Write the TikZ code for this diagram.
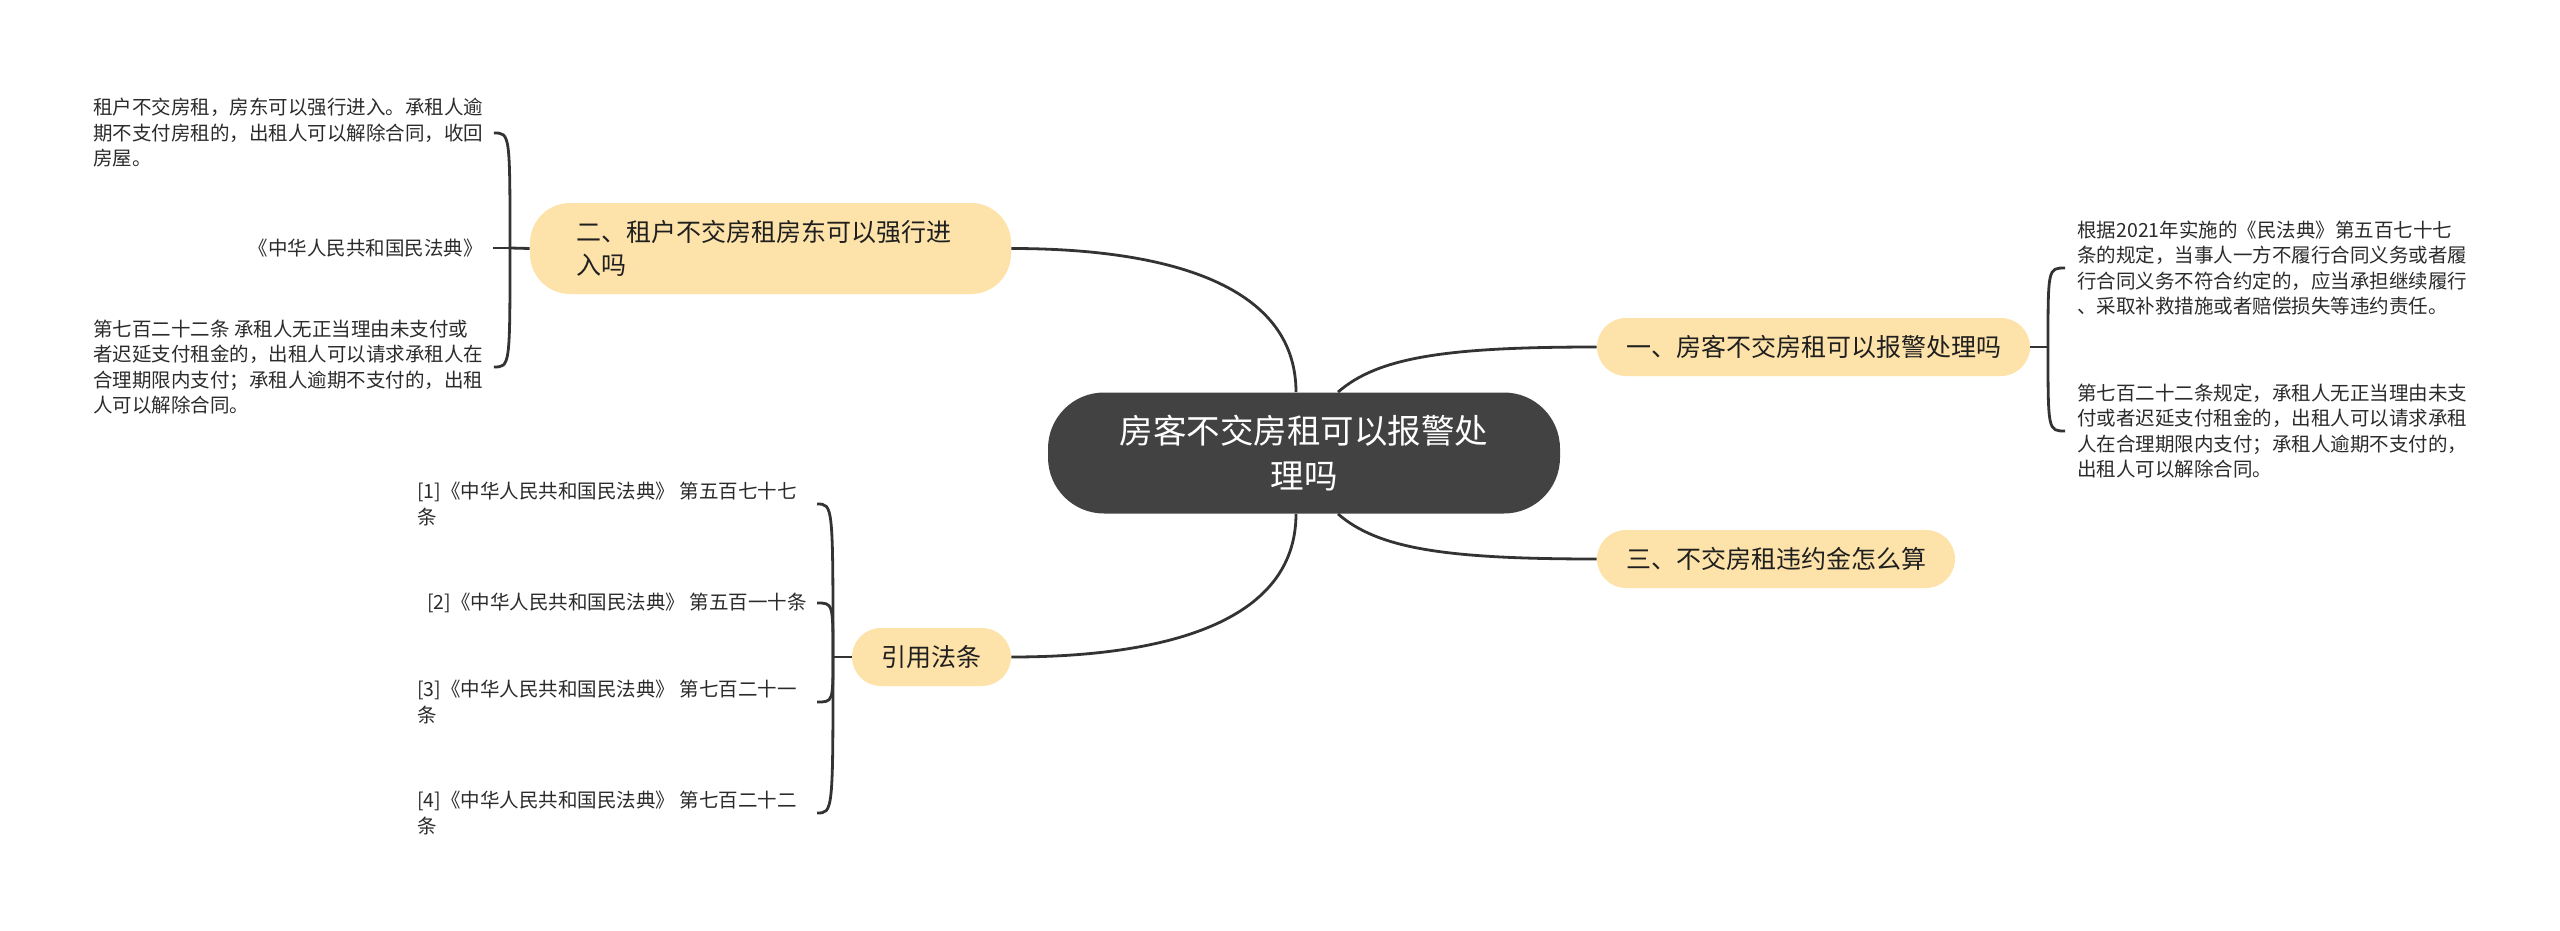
\documentclass[tikz,border=0pt]{standalone}
\usepackage{fontspec}
\setmainfont{Noto Sans CJK SC}
\usetikzlibrary{positioning}
\definecolor{rootgray}{HTML}{424242}
\definecolor{peach}{HTML}{FDE3AA}
\definecolor{linkgray}{HTML}{333333}
\definecolor{leafgray}{HTML}{2B2B2B}

\begin{document}
\begin{tikzpicture}[x=0.5pt,y=-0.5pt,
  root/.style={fill=rootgray, text=white, rounded corners=28pt, minimum width=256pt, minimum height=60.5pt, align=center, font=\fontsize{16.75pt}{22.5pt}\selectfont},
  branch/.style={fill=peach, text=black!88, rounded corners=14.5pt, minimum height=29pt, inner xsep=0pt, font=\fontsize{12.5pt}{16.5pt}\selectfont},
  leaf/.style={inner sep=0pt, text=leafgray, align=left, font=\fontsize{9.75pt}{12.75pt}\selectfont},
  link/.style={draw=linkgray, line width=1.4pt}]
\useasboundingbox (0,0) rectangle (2560,931);

% centre and main branches
\node[root] (root) at (1304,453) {房客不交房租可以报警处\\理吗};
\node[branch, minimum width=216.5pt] (b1) at (1813.5,347) {一、房客不交房租可以报警处理吗};
\node[branch, rounded corners=20pt, minimum height=45.5pt, text width=194.5pt, inner xsep=23pt, align=left] (b2) at (770.5,248.5) {二、租户不交房租房东可以强行进\\入吗};
\node[branch, minimum width=179pt] (b3) at (1776,559) {三、不交房租违约金怎么算};
\node[branch, minimum width=79.5pt] (cite) at (931.5,657) {引用法条};

\draw[link] ([xshift=17pt]root.north) .. controls +(40,-35) and +(-150,0) .. (b1.west);
\draw[link] ([xshift=-4pt]root.north) .. controls +(0,-110) and +(150,0) .. (b2.east);
\draw[link] ([xshift=17pt]root.south) .. controls +(40,35) and +(-150,0) .. (b3.west);
\draw[link] ([xshift=-4pt]root.south) .. controls +(0,110) and +(150,0) .. (cite.east);

% leaves of branch one
\node[leaf, anchor=west] (r1) at (2077,268) {根据2021年实施的《民法典》第五百七十七\\条的规定，当事人一方不履行合同义务或者履\\行合同义务不符合约定的，应当承担继续履行\\、采取补救措施或者赔偿损失等违约责任。};
\node[leaf, anchor=west] (r2) at (2077,431) {第七百二十二条规定，承租人无正当理由未支\\付或者迟延支付租金的，出租人可以请求承租\\人在合理期限内支付；承租人逾期不支付的，\\出租人可以解除合同。};
\coordinate (jr) at (2048,347);
\draw[link] (b1.east) -- (jr);
\draw[link] ([xshift=-6pt]r1.west) .. controls (jr |- r1.west) .. (jr);
\draw[link] ([xshift=-6pt]r2.west) .. controls (jr |- r2.west) .. (jr);

% leaves of branch two
\node[leaf, anchor=west] (l1) at (93,133) {租户不交房租，房东可以强行进入。承租人逾\\期不支付房租的，出租人可以解除合同，收回\\房屋。};
\node[leaf, anchor=east] (l2) at (483,248) {《中华人民共和国民法典》};
\node[leaf, anchor=west] (l3) at (93,367) {第七百二十二条 承租人无正当理由未支付或\\者迟延支付租金的，出租人可以请求承租人在\\合理期限内支付；承租人逾期不支付的，出租\\人可以解除合同。};
\coordinate (jl) at (510,248);
\draw[link] (jl) -- (b2.west);
\draw[link] ([xshift=5pt]l1.east) .. controls (jl |- l1.east) .. (jl);
\draw[link] ([xshift=5pt]l2.east) -- (jl);
\draw[link] ([xshift=5pt]l3.east) .. controls (jl |- l3.east) .. (jl);

% cited articles
\node[leaf, anchor=west] (c1) at (417,504) {[1]《中华人民共和国民法典》 第五百七十七\\条};
\node[leaf, anchor=west] (c2) at (427,603) {[2]《中华人民共和国民法典》 第五百一十条};
\node[leaf, anchor=west] (c3) at (417,702) {[3]《中华人民共和国民法典》 第七百二十一\\条};
\node[leaf, anchor=west] (c4) at (417,813) {[4]《中华人民共和国民法典》 第七百二十二\\条};
\coordinate (jc) at (833,657);
\coordinate (cx) at (817,657);
\draw[link] (jc) -- (cite.west);
\foreach \c in {c1,c2,c3,c4}
  \draw[link] (cx |- \c.east) .. controls (jc |- \c.east) .. (jc);
\end{tikzpicture}
\end{document}
